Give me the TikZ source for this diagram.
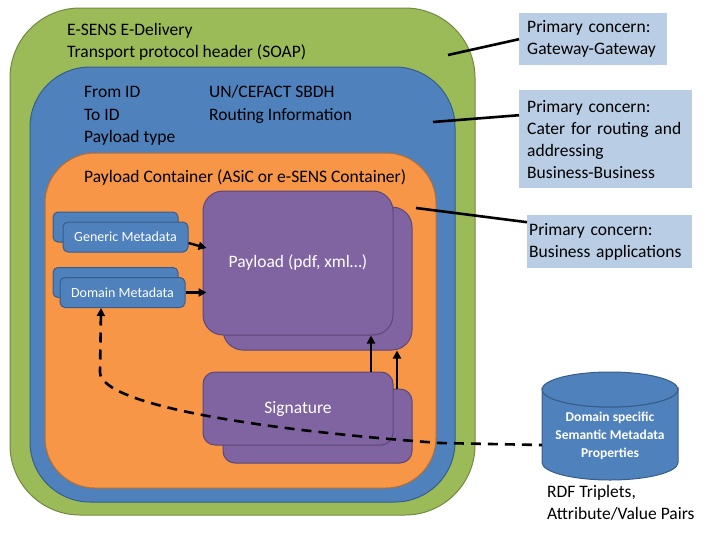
\documentclass[tikz,border=0pt]{standalone}
\usepackage{fontspec}
\setmainfont{Carlito}
\usetikzlibrary{arrows.meta,calc}
\definecolor{gfill}{HTML}{9BBB59}\definecolor{gdraw}{HTML}{71893F}
\definecolor{bfill}{HTML}{4F81BD}\definecolor{bdraw}{HTML}{385D8A}
\definecolor{ofill}{HTML}{F79646}\definecolor{odraw}{HTML}{B66D31}
\definecolor{pfill}{HTML}{8064A2}\definecolor{pdraw}{HTML}{5C4776}
\definecolor{lfill}{HTML}{B9CDE5}
\begin{document}
\begin{tikzpicture}[x=1pt,y=-1pt,
  shell/.style={rectangle,draw=#1,line width=1pt,inner sep=0pt},
  lbl/.style={anchor=west,inner sep=0pt,text height=14pt,text depth=3pt,font=\fontsize{17.5}{22}\selectfont},
  note/.style={rectangle,fill=lfill,inner xsep=8pt,inner ysep=0pt,align=left,anchor=north west,font=\fontsize{17.5}{22}\selectfont},
  conn/.style={line width=2.6pt,black},
  arr/.style={line width=2.4pt,black,-{Triangle[length=8pt,width=8pt]}},
  meta/.style={shell=bdraw,fill=bfill,rounded corners=5pt,minimum width=125pt,minimum height=30pt,text=white,font=\fontsize{14}{16}\selectfont},
  purp/.style={shell=pdraw,fill=pfill,text=white,font=\fontsize{17.5}{20}\selectfont}]
\useasboundingbox (0,0) rectangle (709,546);
\fill[white] (0,0) rectangle (709,546);
% nested containers
\node[shell=gdraw,fill=gfill,rounded corners=70pt,minimum width=465pt,minimum height=507pt] (green) at (242.5,261.5) {};
\node[shell=bdraw,fill=bfill,rounded corners=60pt,minimum width=425pt,minimum height=435pt] (blue) at (242.5,284.5) {};
\node[shell=odraw,fill=ofill,rounded corners=50pt,minimum width=391pt,minimum height=335pt] (orange) at (240.5,320.5) {};
% texts of containers
\node[lbl] (t1) at (67,30) {E-SENS E-Delivery};
\node[lbl] (t2) at (67,52) {Transport protocol header (SOAP)};
\node[lbl] (t3) at (84,92) {From ID};
\node[lbl] (t4) at (84,115) {To ID};
\node[lbl] (t5) at (84,137) {Payload type};
\node[lbl] (t6) at (209,92) {UN/CEFACT SBDH};
\node[lbl] (t7) at (209,115) {Routing Information};
\node[lbl] (t8) at (84,177) {Payload Container (ASiC or e-SENS Container)};
% payload
\node[purp,rounded corners=20pt,minimum width=189pt,minimum height=143pt] (pback) at (317.5,278.5) {};
\node[purp,rounded corners=20pt,minimum width=190pt,minimum height=144pt] (pfront) at (298,263) {Payload (pdf, xml…)};
% signature
\node[purp,rounded corners=12pt,minimum width=189pt,minimum height=74pt] (sback) at (317.5,426) {};
\node[purp,rounded corners=12pt,minimum width=190pt,minimum height=73pt] (sfront) at (298,408.5) {Signature};
% metadata
\node[meta] (gmback) at (115.5,227) {};
\node[meta] (gmfront) at (125.5,237) {Generic Metadata};
\node[meta] (dmback) at (115.5,282.5) {};
\node[meta] (dmfront) at (122.5,292.5) {Domain Metadata};
% arrows into payload
\draw[arr] ([yshift=-6pt]gmfront.east) -- ([yshift=15pt,xshift=4pt]pfront.west);
\draw[arr] (dmfront.east) -- ([xshift=4pt]dmfront.east -| pfront.west);
\draw[arr] ([xshift=73pt]sfront.north) -- ([xshift=73pt]pfront.south);
\draw[arr] ([xshift=79.5pt]sback.north) -- ([xshift=79.5pt]pback.south);
% cylinder
\fill[bfill,draw=bdraw,line width=1pt] (542,389.5) -- (542,462.5) arc[start angle=180,end angle=360,x radius=68pt,y radius=17.5pt] -- (678,389.5) arc[start angle=0,end angle=-180,x radius=68pt,y radius=17.5pt] -- cycle;
\draw[bdraw,line width=1pt,fill=bfill] (610,389.5) ellipse [x radius=68pt,y radius=17.5pt];
\node[inner sep=0pt,minimum width=136pt,minimum height=108pt,align=center,text=white,font=\fontsize{13.5}{18}\selectfont\bfseries] (cyl) at (610,436) {Domain specific\\Semantic Metadata\\Properties};
\node[inner sep=0pt,anchor=north west,align=left,font=\fontsize{17.5}{22}\selectfont] (rdf) at (547,485) {RDF Triplets,\\Attribute/Value Pairs};
% dashed link
\coordinate (dmtip) at (101,308);
\draw[line width=2.6pt,dash pattern=on 10pt off 7pt,{Triangle[length=8pt,width=8pt]}-] (dmtip) -- (100,372) .. controls (100,405) and (260,430) .. (440,443) -- (cyl.west |- 0,445);
% notes
\node[note,text width=132pt,minimum width=148pt,minimum height=52pt] (lab1) at (519,13) {Primary concern:\\Gateway-Gateway};
\node[note,text width=157pt,minimum width=173pt,minimum height=98pt] (lab2) at (519,90) {Primary concern:\\Cater for routing and\\addressing\\Business-Business};
\node[note,inner xsep=2pt,text width=161pt,minimum width=165pt,minimum height=53pt] (lab3) at (527,215) {Primary concern:\\Business applications};
\coordinate (c1) at (448,55);
\coordinate (c2) at (433,122);
\coordinate (c3) at (416,208);
\draw[conn] (c1) -- (lab1.west);
\draw[conn] (c2) -- ([yshift=24pt]lab2.west);
\draw[conn] (c3) -- ([yshift=19.5pt]lab3.west);
\end{tikzpicture}
\end{document}
